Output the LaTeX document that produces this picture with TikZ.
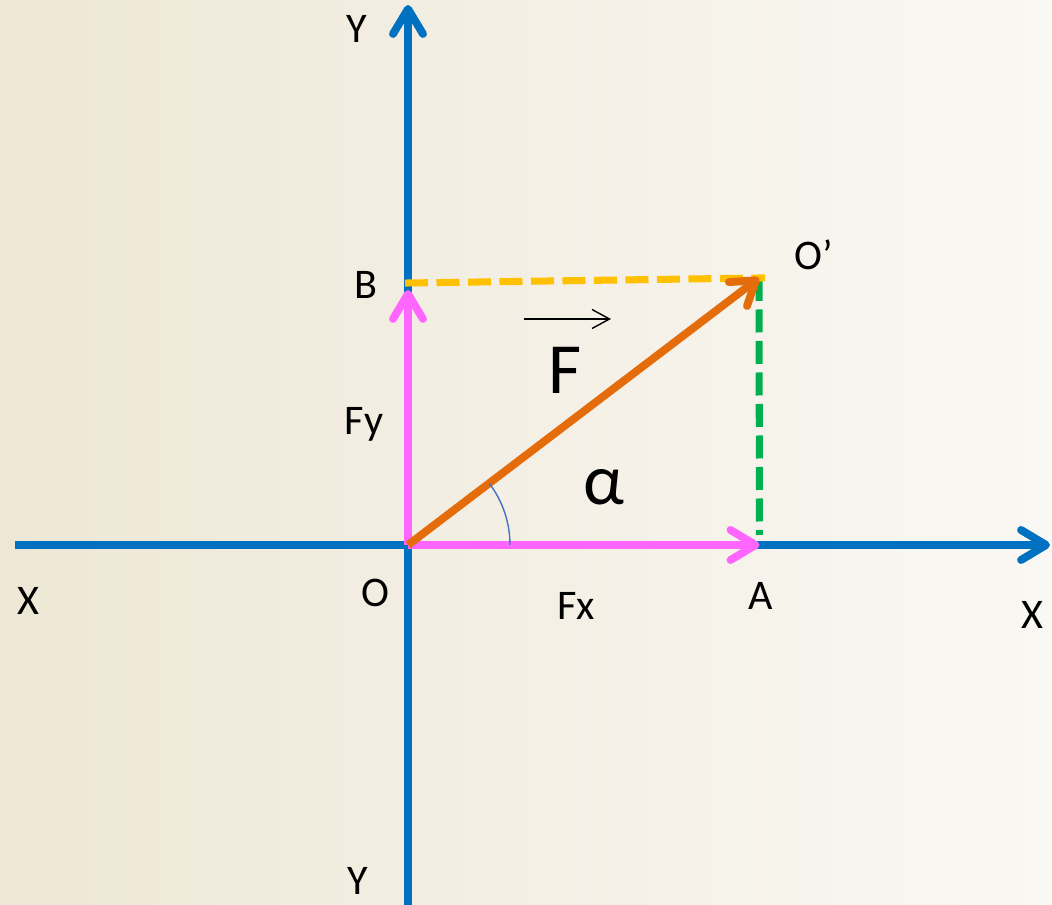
\documentclass[tikz,border=0pt]{standalone}
\usepackage{fontspec}
\setmainfont{Carlito}
\usepackage{xcolor}
\usepackage{tikz}
\usetikzlibrary{arrows.meta,calc,positioning}
\definecolor{AxisBlue}{HTML}{0070C0}
\definecolor{CompPink}{HTML}{FF66FF}
\definecolor{ForceOrange}{HTML}{E46C0A}
\definecolor{ProjYellow}{HTML}{FFC000}
\definecolor{ProjGreen}{HTML}{00B050}
\definecolor{AngleBlue}{HTML}{4472C4}
\definecolor{BgLeft}{HTML}{EEE7D6}
\definecolor{BgRight}{HTML}{FAF8F4}

\begin{document}
\begin{tikzpicture}[
  axis/.style={draw=AxisBlue,line width=4.5pt,-{Straight Barb[length=5mm,width=6mm,round]}},
  comp/.style={draw=CompPink,line width=4.5pt,-{Straight Barb[length=5mm,width=6mm,round]}},
  force/.style={draw=ForceOrange,line width=4.5pt,-{Straight Barb[length=4.5mm,width=6mm,round]}},
  proj/.style={line width=4pt,dash pattern=on 4.6mm off 1.7mm},
  lbl/.style={font=\fontsize{24}{28}\selectfont,anchor=base,inner sep=0pt},
  big/.style={font=\fontsize{41}{48}\selectfont,anchor=base,inner sep=0pt}
]
\shade[left color=BgLeft,right color=BgRight] (-8.16,-7.2) rectangle (12.88,10.9);
\useasboundingbox (-8.16,-7.2) rectangle (12.88,10.9);

\coordinate (O) at (0,0);
\coordinate (A) at (7.03,0);
\coordinate (B) at (0,5.24);
\coordinate (Op) at (7.02,5.34);
\coordinate (xl) at (-7.86,0);
\coordinate (xr) at (12.84,0);
\coordinate (yb) at (0,-7.2);
\coordinate (yt) at (0,10.8);
\coordinate (h1) at (2.32,4.52);
\coordinate (h2) at (4.06,4.52);

\draw[axis,-] (xl) -- (O);
\draw[axis] (O) -- (xr);
\draw[axis] (yb) -- (yt);

\draw[proj,draw=ProjGreen,shorten >=2mm] (Op) -- (A);
\draw[proj,draw=ProjYellow,shorten <=-0.6mm,shorten >=-1.2mm] (B) -- (Op);

\draw[comp] (O) -- (A);
\draw[comp,shorten >=1.4mm] (O) -- (B);
\draw[force] (O) -- (Op);

\draw[AngleBlue,line width=0.8pt] (2.04,0) arc[start angle=0,end angle=37,radius=2.04];
\draw[line width=0.8pt,-{Straight Barb[length=3.5mm,width=3.8mm]}] (h1) -- (h2);

\node[lbl] (lYt) at (-1.02,10.04) {Y};
\node[lbl] (lYb) at (-1.0,-6.98) {Y};
\node[lbl] (lXl) at (-7.6,-1.4) {X};
\node[lbl] (lXr) at (12.48,-1.66) {X};
\node[lbl] (lO) at (-0.66,-1.24) {O};
\node[lbl] (lA) at (7.06,-1.3) {A};
\node[lbl] (lFx) at (3.36,-1.5) {Fx};
\node[lbl] (lB) at (-0.84,4.92) {B};
\node[lbl] (lFy) at (-0.88,2.2) {Fy};
\node[lbl] (lOp) at (8.12,5.5) {O’};
\node[big] (lF) at (3.14,3.02) {F};
\node[big] (lalpha) at (3.92,0.8) {α};
\end{tikzpicture}
\end{document}
